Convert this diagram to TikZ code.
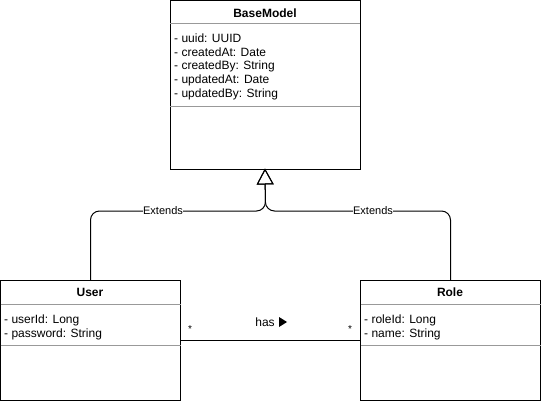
\documentclass[tikz,border=0pt]{standalone}
\usepackage{fontspec}
\setmainfont{Liberation Sans}
\usetikzlibrary{arrows.meta}
\begin{document}
\begin{tikzpicture}[x=1pt,y=-1pt,
  classbox/.style={draw=black, line width=1pt, inner sep=0pt, outer sep=0pt, anchor=north west},
  title/.style={font=\fontsize{12}{14}\selectfont\bfseries, inner sep=0pt},
  attr/.style={font=\fontsize{12}{14}\selectfont, inner sep=0pt, anchor=west},
  sep/.style={draw=black!40, line width=1pt},
  ext/.style={draw=black, line width=1pt, rounded corners=9pt, -{Triangle[open, length=16pt, width=17pt, line width=1pt]}},
  elbl/.style={font=\fontsize{11}{13}\selectfont, fill=white, inner sep=0.5pt},
  mult/.style={font=\fontsize{10}{12}\selectfont, inner sep=0pt},
  assoc/.style={draw=black, line width=1pt}]
\useasboundingbox (0,0) rectangle (541,401);

% BaseModel
\node[classbox, minimum width=190pt, minimum height=169pt] (base) at (170,1) {};
\node[title] (baset) at (265,13) {BaseModel};
\draw[sep] (170,24) -- (360,24);
\node[attr] (b1) at (174,38) {- uuid: UUID};
\node[attr] (b2) at (174,52) {- createdAt: Date};
\node[attr] (b3) at (174,66) {- createdBy: String};
\node[attr] (b4) at (174,80) {- updatedAt: Date};
\node[attr] (b5) at (174,94) {- updatedBy: String};
\draw[sep] (170,107) -- (360,107);

% User
\node[classbox, minimum width=180pt, minimum height=120pt] (user) at (0.5,280.5) {};
\node[title] (usert) at (90,292) {User};
\draw[sep] (0.5,304.5) -- (180.5,304.5);
\node[attr] (u1) at (4,320) {- userId: Long};
\node[attr] (u2) at (4,334) {- password: String};
\draw[sep] (0.5,345.5) -- (180.5,345.5);

% Role
\node[classbox, minimum width=180pt, minimum height=120pt] (role) at (360.5,280.5) {};
\node[title] (rolet) at (450,292) {Role};
\draw[sep] (360.5,304.5) -- (540.5,304.5);
\node[attr] (r1) at (364,320) {- roleId: Long};
\node[attr] (r2) at (364,334) {- name: String};
\draw[sep] (360.5,345.5) -- (540.5,345.5);

% Generalization
\coordinate (j) at (265.5,211);
\draw[ext] (user.north) |- (j) -- ([yshift=1.5pt]base.south);
\draw[ext] (role.north) |- (j) -- ([yshift=1.5pt]base.south);
\node[elbl] (e1) at (163,211) {Extends};
\node[elbl] (e2) at (373,211) {Extends};

% Association
\draw[assoc] (user.east) -- (role.west);
\node[mult] (m1) at (190,329) {*};
\node[mult] (m2) at (350,329) {*};
\node[attr, anchor=center] (has) at (265,322) {has};
\fill[black] (279,317) -- (287,322) -- (279,327) -- cycle;
\end{tikzpicture}
\end{document}
